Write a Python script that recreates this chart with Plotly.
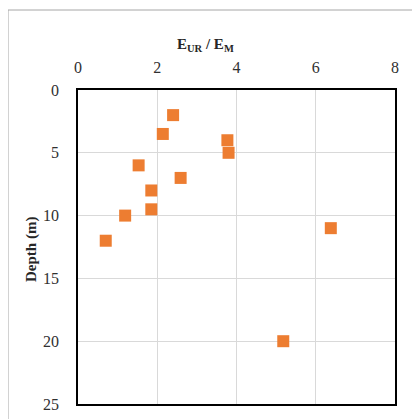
import plotly.graph_objects as go

ratio = [2.40, 2.14, 3.77, 3.80, 1.53, 2.59, 1.85, 1.85, 1.19, 6.38, 0.70, 5.18]
depth = [2.0, 3.5, 4.0, 5.0, 6.0, 7.0, 8.0, 9.5, 10.0, 11.0, 12.0, 20.0]

OFF = 8  # page body margin
W, H = 420 - OFF, 419 - OFF
L, R, T, B = 78 - OFF, 25, 90 - OFF, 15
pw, ph = W - L - R, H - T - B

def px(x):
    return (x - OFF - L) / pw

def py(y):
    return 1 - (y - OFF - T) / ph

fig = go.Figure(go.Scatter(
    x=ratio, y=depth, mode="markers",
    marker=dict(symbol="square", size=12, color="#ED7D31", line=dict(width=0)),
    showlegend=False))

tfont = dict(family="Liberation Serif", size=16, color="#303030")
hfont = dict(family="Liberation Serif", size=15, color="#262626")

fig.update_layout(
    width=W, height=H,
    margin=dict(l=L, r=R, t=T, b=B, autoexpand=False),
    paper_bgcolor="white", plot_bgcolor="white",
    font=tfont,
    xaxis=dict(range=[0, 8], side="top", dtick=2, showgrid=True, gridcolor="#d9d9d9", gridwidth=1.3,
               zeroline=False, showline=True, linecolor="black", linewidth=1.5, mirror=True,
               ticks="", ticklabelstandoff=9, tickfont=tfont),
    yaxis=dict(range=[25, 0], dtick=5, showgrid=True, gridcolor="#d9d9d9", gridwidth=1.3,
               zeroline=False, showline=True, linecolor="black", linewidth=1.5, mirror=True,
               ticks="", ticklabelstandoff=14, tickfont=tfont),
    annotations=[
        dict(text="<b>E<sub>UR</sub> / E<sub>M</sub></b>", xref="paper", yref="paper",
             x=px(205), y=py(45), showarrow=False, font=hfont, xanchor="center", yanchor="middle"),
        dict(text="<b>Depth (m)</b>", xref="paper", yref="paper", textangle=-90,
             x=px(31), y=py(250), showarrow=False, font=hfont, xanchor="center", yanchor="middle"),
    ],
    shapes=[dict(type="rect", xref="paper", yref="paper",
                 x0=px(8), x1=px(440), y0=py(440), y1=py(10),
                 line=dict(color="#a6a6a6", width=1), layer="below")],
)

fig.write_html("out.html")
